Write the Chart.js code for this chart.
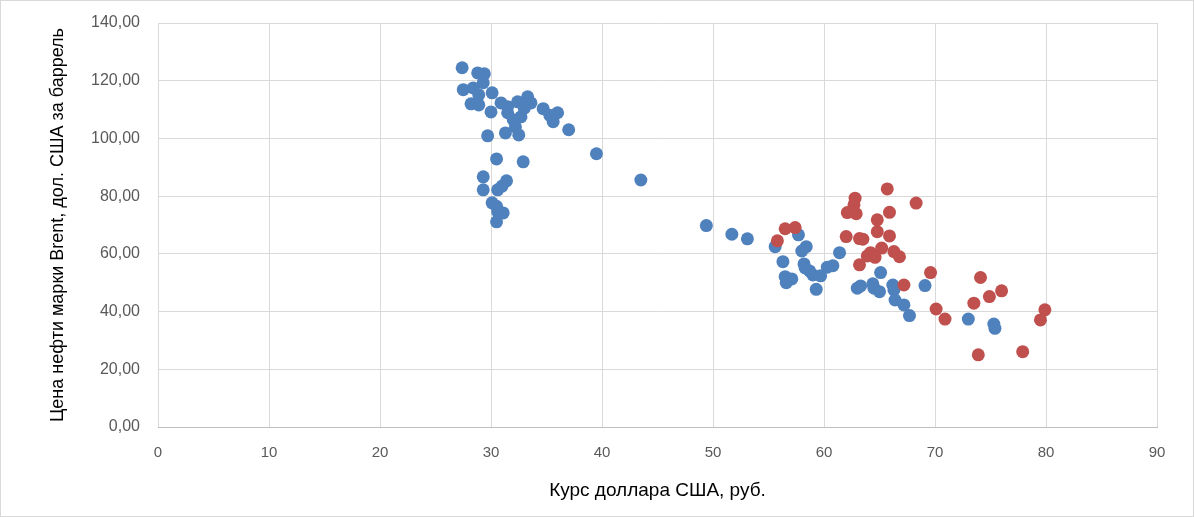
<!DOCTYPE html>
<html>
<head>
<meta charset="utf-8">
<script src="https://cdn.jsdelivr.net/npm/chart.js@4.4.0/dist/chart.umd.min.js"></script>
<style>
    html, body { margin: 0; padding: 0; background: #fff; }
    #wrap { position: relative; width: 1192px; height: 515px; border: 1px solid #d9d9d9; }
</style>
</head>
<body>
<div id="wrap"><canvas id="oilChart"></canvas></div>
<script>
// Курс доллара (x) и цена Brent (y), первая группа точек
const blueX = [27.4, 28.8, 29.4, 29.3, 27.5, 28.4, 28.9, 28.2, 30.1, 28.9, 30.0, 30.9, 31.5, 32.4, 33.3, 33.6,
    34.7, 36.0, 35.6, 37.0, 35.3, 31.5, 32.0, 32.7, 33.0, 32.2, 31.3, 32.5, 29.7, 30.5, 32.9, 29.3,
    31.4, 29.3, 30.6, 31.0, 30.1, 30.5, 31.1, 30.6, 30.5, 39.5, 43.5, 49.4, 51.7, 53.1, 55.6, 57.7,
    58.4, 58.0, 56.3, 58.2, 58.3, 58.7, 56.5, 57.1, 56.6, 59.0, 59.7, 60.3, 60.8, 61.4, 59.3, 63.0,
    63.3, 65.1, 64.4, 64.5, 65.0, 66.2, 66.3, 66.4, 67.2, 67.7, 69.1, 73.0, 75.3, 75.4];
const blueY = [124.5, 122.7, 122.4, 119.3, 116.9, 117.5, 115.1, 112.0, 115.8, 111.6, 109.2, 112.3, 111.0, 112.7, 114.4, 112.3,
    110.3, 108.9, 105.8, 103.0, 108.0, 108.9, 106.5, 107.5, 110.5, 104.0, 101.9, 101.2, 100.9, 92.9, 91.9, 86.7,
    85.3, 82.2, 82.2, 83.5, 77.7, 76.5, 74.2, 74.6, 71.1, 94.7, 85.6, 69.8, 66.8, 65.2, 62.5, 66.6,
    62.5, 61.0, 57.3, 56.5, 55.1, 54.1, 52.1, 51.3, 50.0, 52.7, 52.4, 55.4, 55.9, 60.4, 47.7, 48.1,
    48.9, 53.5, 49.6, 48.1, 46.9, 49.2, 47.5, 44.0, 42.3, 38.6, 49.0, 37.4, 35.7, 34.2];

// вторая группа точек
const redX = [55.8, 56.5, 57.4, 62.8, 62.7, 62.1, 62.9, 62.0, 63.2, 63.5, 63.2, 63.9, 65.7, 68.3, 65.9, 64.8,
    64.8, 65.9, 64.2, 64.6, 65.2, 66.3, 66.8, 69.6, 67.2, 70.1, 70.9, 73.5, 74.1, 74.9, 76.0, 79.9,
    79.5, 73.9, 77.9];
const redY = [64.5, 68.7, 69.1, 79.3, 77.0, 74.3, 73.9, 66.0, 65.3, 65.1, 56.2, 59.3, 82.5, 77.6, 74.4, 71.8,
    67.7, 66.2, 60.4, 58.8, 62.0, 60.8, 59.0, 53.5, 49.2, 40.9, 37.4, 42.9, 51.8, 45.2, 47.2, 40.6,
    37.1, 25.0, 26.1];

const xTitle = 'Курс доллара США, руб.';
const yTitle = 'Цена нефти марки Brent, дол. США за баррель';

function toPoints(xs, ys) {
    return xs.map((x, i) => ({ x: x, y: ys[i] }));
}

const fontFamily = '"Liberation Sans", Arial, sans-serif';
const ctx = document.getElementById('oilChart').getContext('2d');

new Chart(ctx, {
    type: 'scatter',
    data: {
        datasets: [{
            data: toPoints(redX, redY),
            backgroundColor: '#C0504D',
            borderColor: '#C0504D',
            pointRadius: 6.5,
            borderWidth: 0
        }, {
            data: toPoints(blueX, blueY),
            backgroundColor: '#4F81BD',
            borderColor: '#4F81BD',
            pointRadius: 6.5,
            borderWidth: 0
        }]
    },
    options: {
        responsive: true,
        maintainAspectRatio: false,
        animation: false,
        layout: { padding: { left: 42, right: 36, top: 22, bottom: 0 } },
        plugins: {
            legend: { display: false },
            tooltip: { enabled: false }
        },
        scales: {
            x: {
                type: 'linear',
                min: 0,
                max: 90,
                ticks: {
                    stepSize: 10,
                    color: '#595959',
                    padding: 17,
                    font: { family: fontFamily, size: 15 }
                },
                grid: { color: '#d9d9d9', drawTicks: false },
                border: { color: '#bfbfbf' },
                title: {
                    display: true,
                    text: xTitle,
                    color: '#000',
                    font: { family: fontFamily, size: 19 },
                    padding: { top: 0, bottom: 14 }
                },
                afterFit: scale => { scale.height = 89; }
            },
            y: {
                min: 0,
                max: 140,
                ticks: {
                    stepSize: 20,
                    color: '#595959',
                    padding: 18,
                    font: { family: fontFamily, size: 16 },
                    callback: v => v.toFixed(2).replace('.', ',')
                },
                grid: { color: '#d9d9d9', drawTicks: false },
                border: { display: false },
                title: {
                    display: true,
                    text: yTitle,
                    color: '#000',
                    font: { family: fontFamily, size: 18 },
                    padding: { top: 4, bottom: 0 }
                },
                afterFit: scale => {
                    scale.width = 115;
                    scale.paddingTop = 0;
                }
            }
        }
    }
});
</script>
</body>
</html>
